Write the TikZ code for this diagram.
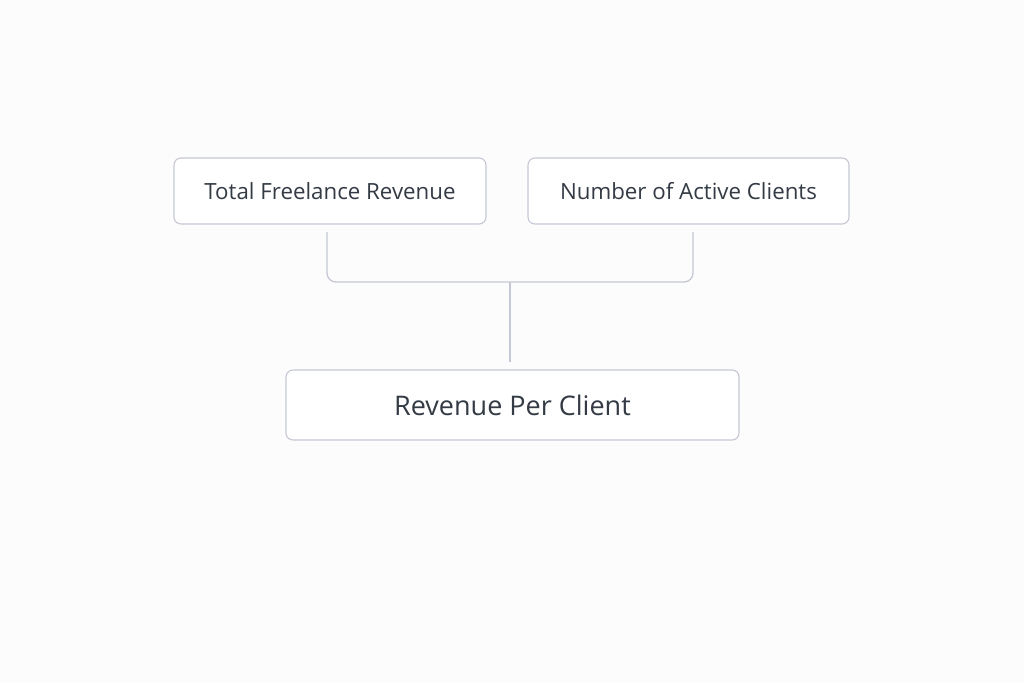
\documentclass[tikz,border=0pt]{standalone}
\usepackage{fontspec}
\setmainfont{Open Sans}
\definecolor{bg}{HTML}{FCFCFD}
\definecolor{edge}{HTML}{C5C8D4}
\definecolor{txt}{HTML}{343B45}
\begin{document}
\begin{tikzpicture}[x=1pt,y=-1pt,
  box/.style={draw=edge, line width=1.1pt, rounded corners=7pt, fill=white, text=txt, anchor=center},
  conn/.style={draw=edge, line width=1.3pt, rounded corners=9pt}]
\fill[bg] (0,0) rectangle (1024,683);
\useasboundingbox (0,0) rectangle (1024,683);
\node[box, minimum width=312pt, minimum height=66pt, font=\fontsize{22.3}{26}\selectfont] (b1) at (330,191) {Total Freelance Revenue};
\node[box, minimum width=321pt, minimum height=66pt, font=\fontsize{22.3}{26}\selectfont] (b2) at (688.5,191) {Number of Active Clients};
\node[box, minimum width=453pt, minimum height=70pt, font=\fontsize{27}{31}\selectfont] (b3) at (512.5,405) {Revenue Per Client};
\coordinate (t1) at (327,232);
\coordinate (t2) at (693,232);
\coordinate (j) at (510,282);
\coordinate (e) at (510,362);
\draw[conn] (t1) |- (j) -| (t2);
\draw[conn] (j) -- (e);
\end{tikzpicture}
\end{document}
